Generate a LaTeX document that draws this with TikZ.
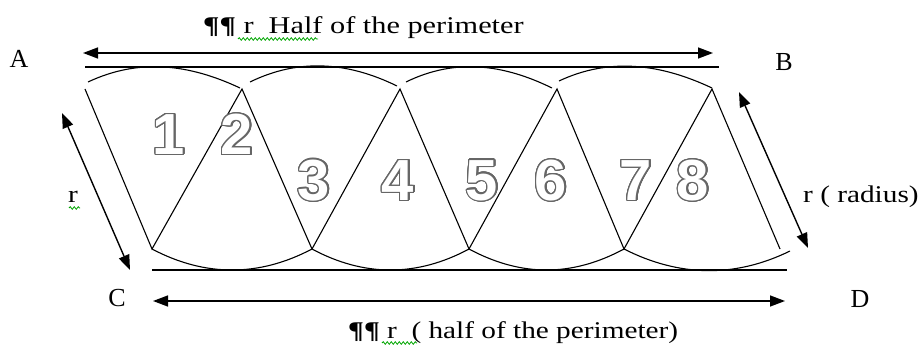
\documentclass[tikz,border=0pt]{standalone}
\usepackage{fontspec}
\usepackage[copies]{contour}
\usetikzlibrary{arrows.meta,decorations.pathmorphing}
\newfontfamily\labfont[FakeStretch=1.22]{Liberation Serif}
\newfontfamily\capfont{Liberation Serif}
\newfontfamily\digfont{Liberation Sans}
\contourlength{1.3pt}
\contournumber{24}
\begin{document}
\begin{tikzpicture}[x=1pt,y=-1pt,
  fig/.style={line width=1.1pt, line join=miter},
  hline/.style={line width=1.5pt},
  dim/.style={line width=1.4pt, {Triangle[length=15pt,width=11pt]}-{Triangle[length=15pt,width=11pt]}},
  lbl/.style={font=\labfont\fontsize{24}{24}\selectfont, inner sep=0pt, anchor=base west},
  corner/.style={font=\capfont\fontsize{26}{26}\selectfont, inner sep=0pt},
  digit/.style={font=\digfont\bfseries\fontsize{58}{58}\selectfont, text=white, inner sep=0pt},
  squig/.style={draw=green!65!black, line width=0.8pt, decorate, decoration={snake, amplitude=1.3pt, segment length=4pt}}]
\useasboundingbox (0,0) rectangle (920,347);

% vertices of the zigzag
\coordinate (t0) at (85,89);
\coordinate (t1) at (242,89);
\coordinate (t2) at (400,89);
\coordinate (t3) at (557,89);
\coordinate (t4) at (712,89);
\coordinate (b1) at (152,249);
\coordinate (b2) at (312,249);
\coordinate (b3) at (469,249);
\coordinate (b4) at (624,249);
\coordinate (b5) at (780,249);
\coordinate (b6) at (790,251);

% zigzag radii
\draw[fig] (t0) -- (b1) -- (t1) -- (b2) -- (t2) -- (b3) -- (t3) -- (b4) -- (t4) -- (b5);

% upper arcs
\coordinate (u1s) at (88,82);  \coordinate (u1e) at (240,88);
\coordinate (u2s) at (250,82); \coordinate (u2e) at (397,86);
\coordinate (u3s) at (406,82); \coordinate (u3e) at (552,88);
\coordinate (u4s) at (559,81); \coordinate (u4e) at (712,88);
\draw[fig] (u1s) .. controls (139,58) and (189,64) .. (u1e);
\draw[fig] (u2s) .. controls (299,58) and (348,62) .. (u2e);
\draw[fig] (u3s) .. controls (455,58) and (503,64) .. (u3e);
\draw[fig] (u4s) .. controls (610,57) and (661,64) .. (u4e);

% lower arcs
\draw[fig] (b1) .. controls (205,277) and (259,277) .. (b2);
\draw[fig] (b2) .. controls (364,277) and (417,277) .. (b3);
\draw[fig] (b3) .. controls (521,277) and (572,277) .. (b4);
\draw[fig] (b4) .. controls (679,277) and (735,278) .. (b6);

% straight sides
\coordinate (ltl) at (85,67);  \coordinate (ltr) at (719,67);
\coordinate (lbl) at (152,270); \coordinate (lbr) at (787,270);
\draw[hline] (ltl) -- (ltr);
\draw[hline] (lbl) -- (lbr);

% dimension arrows
\coordinate (aTL) at (83,53);  \coordinate (aTR) at (713,53);
\coordinate (aBL) at (153,301); \coordinate (aBR) at (785,301);
\coordinate (aLa) at (62,113); \coordinate (aLb) at (130,270);
\coordinate (aRa) at (739,92); \coordinate (aRb) at (808,248);
\draw[dim] (aTL) -- (aTR);
\draw[dim] (aBL) -- (aBR);
\draw[dim] (aLa) -- (aLb);
\draw[dim] (aRa) -- (aRb);

% corner labels
\node[corner] (A) at (19,59) {A};
\node[corner] (B) at (784,62) {B};
\node[corner] (C) at (117,298) {C};
\node[corner] (D) at (860,299) {D};

% texts
\node[lbl] (ttop) at (203,34) {\scalebox{1.035}[1]{\textbf{¶¶} r\ \ Half of the perimeter}};
\node[lbl] (tbot) at (348,338) {\textbf{¶¶} r\ \ ( half of the perimeter)};
\node[lbl] (trad) at (803,203) {r ( radius)};
\node[lbl] (tr) at (68,203) {r};

% spelling squiggles
\coordinate (s1a) at (238,39); \coordinate (s1b) at (318,39);
\coordinate (s2a) at (382,343); \coordinate (s2b) at (417,343);
\coordinate (s3a) at (69,208); \coordinate (s3b) at (80,208);
\draw[squig] (s1a) -- (s1b);
\draw[squig] (s2a) -- (s2b);
\draw[squig] (s3a) -- (s3b);

% sector numbers
\node[digit] (d1) at (169,135) {\contour{black!60}{1}};
\node[digit] (d2) at (237,135) {\contour{black!60}{2}};
\node[digit] (d3) at (314,181) {\contour{black!60}{3}};
\node[digit] (d4) at (398,181) {\contour{black!60}{4}};
\node[digit] (d5) at (482,181) {\contour{black!60}{5}};
\node[digit] (d6) at (551,181) {\contour{black!60}{6}};
\node[digit] (d7) at (636,181) {\contour{black!60}{7}};
\node[digit] (d8) at (693,181) {\contour{black!60}{8}};
\end{tikzpicture}
\end{document}
